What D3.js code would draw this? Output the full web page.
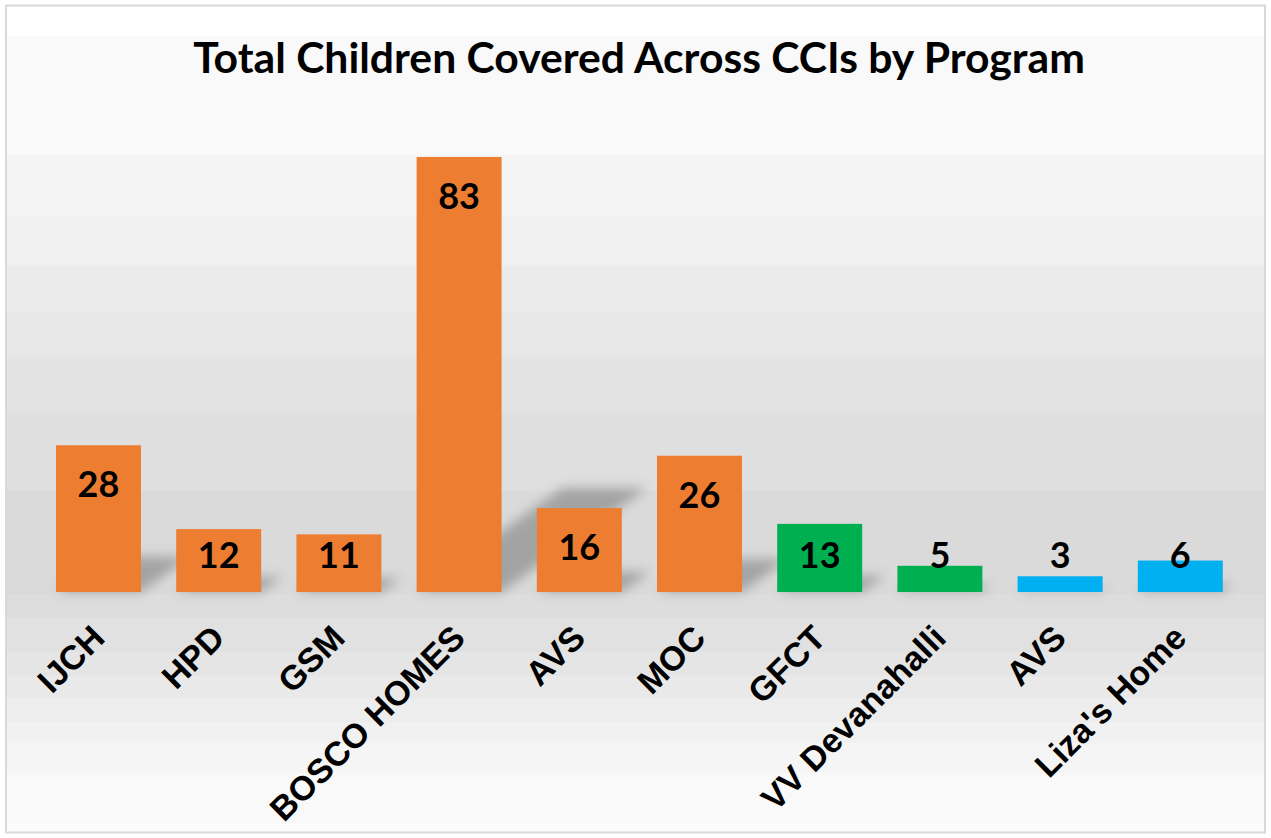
<!DOCTYPE html>
<html>
<head>
<meta charset="utf-8">
<script src="https://cdnjs.cloudflare.com/ajax/libs/d3/7.8.5/d3.min.js"></script>
<style>
  body { margin: 0; background: #fff; }
  svg { display: block; }
  .title { font-family: Lato, "Open Sans", sans-serif; font-weight: bold; fill: #000; }
  .val { font-family: Lato, "Open Sans", sans-serif; font-weight: bold; font-size: 36px; fill: #000; }
  .cat { font-family: "Liberation Sans", Arial, sans-serif; font-weight: bold; font-size: 34px; fill: #000; }
</style>
</head>
<body>
<script>
  // data
  var categories = ["IJCH", "HPD", "GSM", "BOSCO HOMES", "AVS", "MOC", "GFCT", "VV Devanahalli", "AVS", "Liza's Home"];
  var values = [28, 12, 11, 83, 16, 26, 13, 5, 3, 6];
  var programOf = [0, 0, 0, 0, 0, 0, 1, 1, 2, 2];
  var programColors = ["#ED7D31", "#00B050", "#00B0F0"];
  var title = "Total Children Covered Across CCIs by Program";

  var width = 1271,
      height = 838;

  // stepped grey background (lightest at top and bottom)
  var bandEdges = [6, 36, 155, 216, 266, 312, 357, 413, 491, 594, 618, 652, 676, 698, 722, 743, 773, 823, 832];
  var bandGrays = [255, 249, 244, 240, 235, 231, 227, 223, 218, 221, 225, 229, 233, 237, 241, 245, 249, 252];

  var svg = d3.select("body").append("svg")
      .attr("width", width)
      .attr("height", height);

  var defs = svg.append("defs");
  defs.append("filter")
      .attr("id", "blur")
      .attr("x", "-50%").attr("y", "-50%")
      .attr("width", "200%").attr("height", "200%")
    .append("feGaussianBlur")
      .attr("stdDeviation", 6);

  svg.selectAll("rect.band")
    .data(bandGrays)
    .enter().append("rect")
      .attr("class", "band")
      .attr("x", 6)
      .attr("y", function(d, i) { return bandEdges[i]; })
      .attr("width", width - 12)
      .attr("height", function(d, i) { return bandEdges[i + 1] - bandEdges[i]; })
      .attr("fill", function(d) { return d3.rgb(d, d, d); });

  svg.append("rect")
      .attr("x", 6).attr("y", 5.5)
      .attr("width", width - 12).attr("height", height - 11)
      .attr("fill", "none")
      .attr("stroke", "#d9d9d9")
      .attr("stroke-width", 2);

  var x = d3.scaleBand()
      .domain(d3.range(categories.length))
      .range([38.4, 1240.4])
      .paddingInner(0.293)
      .paddingOuter(0.1465);

  var y = d3.scaleLinear()
      .domain([0, 90])
      .range([592, 120.3]);

  // perspective shadows behind bars
  svg.append("g")
      .attr("filter", "url(#blur)")
    .selectAll("path")
    .data(values)
    .enter().append("path")
      .attr("fill", "#000")
      .attr("fill-opacity", 0.25)
      .attr("d", function(d, i) {
        var x0 = x(i), x1 = x(i) + x.bandwidth(), b = y(0);
        var h = (b - y(d)) * 0.24, s = h * 1.4;
        return "M" + x0 + "," + b + "L" + x1 + "," + b +
               "L" + (x1 + s) + "," + (b - h) + "L" + (x0 + s) + "," + (b - h) + "Z";
      });

  svg.append("g")
    .selectAll("rect")
    .data(values)
    .enter().append("rect")
      .attr("x", function(d, i) { return x(i); })
      .attr("y", function(d) { return y(d); })
      .attr("width", x.bandwidth())
      .attr("height", function(d) { return y(0) - y(d); })
      .attr("fill", function(d, i) { return programColors[programOf[i]]; });

  svg.append("g")
    .selectAll("text")
    .data(values)
    .enter().append("text")
      .attr("class", "val")
      .attr("text-anchor", "middle")
      .attr("x", function(d, i) { return x(i) + x.bandwidth() / 2; })
      .attr("y", function(d) { return Math.min(y(d) + 52, y(0) - 24); })
      .text(function(d) { return d; });

  // rotated category labels
  svg.append("g")
    .selectAll("text")
    .data(categories)
    .enter().append("text")
      .attr("class", "cat")
      .attr("text-anchor", "end")
      .attr("transform", function(d, i) {
        var cx = x(i) + x.bandwidth() / 2;
        return "translate(" + (cx + 8) + "," + (640) + ") rotate(-45)";
      })
      .text(function(d) { return d; });

  var t = svg.append("text")
      .attr("class", "title")
      .attr("text-anchor", "middle")
      .attr("x", 639)
      .attr("y", 73)
      .style("font-size", "40px")
      .text(title);
  var w = t.node().getComputedTextLength();
  t.style("font-size", (40 * 892 / w) + "px");
</script>
</body>
</html>
